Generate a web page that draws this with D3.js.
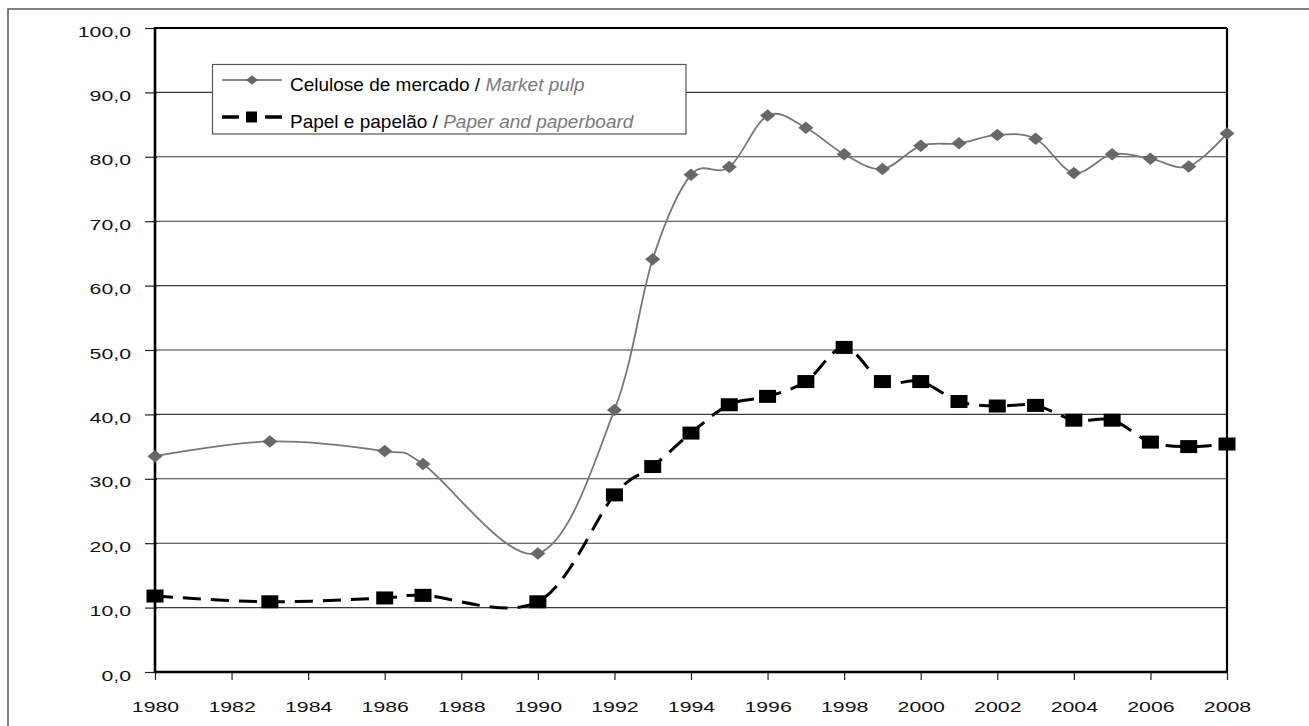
<!DOCTYPE html>
<html>
<head>
<meta charset="utf-8">
<script src="https://cdn.jsdelivr.net/npm/d3@7"></script>
<style>
  html, body { margin: 0; padding: 0; background: #fff; }
  svg { display: block; }
</style>
</head>
<body>
<svg id="chart" width="1309" height="726"></svg>
<script>
// ---- data ----
const years = [1980, 1983, 1986, 1987, 1990, 1992, 1993, 1994, 1995, 1996, 1997, 1998, 1999, 2000, 2001, 2002, 2003, 2004, 2005, 2006, 2007, 2008];
const marketPulp = [33.5, 35.8, 34.3, 32.3, 18.4, 40.7, 64.1, 77.2, 78.4, 86.4, 84.5, 80.4, 78.1, 81.7, 82.1, 83.4, 82.8, 77.5, 80.4, 79.7, 78.5, 83.6];
const paperBoard = [11.8, 10.9, 11.5, 11.9, 10.9, 27.5, 31.9, 37.1, 41.5, 42.8, 45.1, 50.4, 45.1, 45.1, 42.0, 41.3, 41.4, 39.1, 39.1, 35.7, 35.0, 35.4];
const xTicks = [1980, 1982, 1984, 1986, 1988, 1990, 1992, 1994, 1996, 1998, 2000, 2002, 2004, 2006, 2008];
const xTickLabels = ["1980", "1982", "1984", "1986", "1988", "1990", "1992", "1994", "1996", "1998", "2000", "2002", "2004", "2006", "2008"];
const yTicks = [0, 10, 20, 30, 40, 50, 60, 70, 80, 90, 100];
const yTickLabels = ["0,0", "10,0", "20,0", "30,0", "40,0", "50,0", "60,0", "70,0", "80,0", "90,0", "100,0"];
const seriesNames = [["Celulose de mercado / ", "Market pulp"], ["Papel e papelão / ", "Paper and paperboard"]];

// ---- layout ----
const L = 155, R = 1227, T = 28, B = 672;
const SX = 1.42; // horizontal stretch of tick text in the reference

const svg = d3.select("#chart");
const x = d3.scaleLinear().domain([1980, 2008]).range([L, R]);
const y = d3.scaleLinear().domain([0, 100]).range([B, T]);

// outer frame
svg.append("rect").attr("x", 8).attr("y", 9).attr("width", 1340).attr("height", 760)
  .attr("fill", "none").attr("stroke", "#555").attr("stroke-width", 1.5);

// gridlines
svg.append("g").selectAll("line").data(yTicks.filter(d => d > 0 && d < 100)).join("line")
  .attr("x1", L).attr("x2", R).attr("y1", d => y(d)).attr("y2", d => y(d))
  .attr("stroke", "#3a3a3a").attr("stroke-width", 1.1);

// y axis
const yAxis = svg.append("g").attr("transform", `translate(${L},0)`)
  .call(d3.axisLeft(y).tickValues(yTicks).tickSize(10).tickFormat((d, i) => yTickLabels[i]));
yAxis.select(".domain").remove();
yAxis.selectAll(".tick line").attr("x2", -10).attr("x1", 2).attr("stroke", "#222").attr("stroke-width", 1.2);
yAxis.selectAll(".tick text")
  .attr("x", 0).attr("dy", null).attr("y", 0)
  .attr("transform", `translate(-24,8) scale(${SX},1)`)
  .attr("text-anchor", "end")
  .style("font-family", "'Liberation Sans', Arial, sans-serif").style("font-size", "15px").attr("fill", "#111");

// x axis
const xAxis = svg.append("g").attr("transform", `translate(0,${B})`)
  .call(d3.axisBottom(x).tickValues(xTicks).tickSize(8).tickFormat((d, i) => xTickLabels[i]));
xAxis.select(".domain").remove();
xAxis.selectAll(".tick line").attr("stroke", "#222").attr("stroke-width", 1.2);
xAxis.selectAll(".tick text")
  .attr("y", 0).attr("dy", null)
  .attr("transform", `translate(0,40) scale(${SX},1)`)
  .attr("text-anchor", "middle")
  .style("font-family", "'Liberation Sans', Arial, sans-serif").style("font-size", "15px").attr("fill", "#111");

// plot border
svg.append("line").attr("x1", L).attr("x2", R).attr("y1", T).attr("y2", T).attr("stroke", "#000").attr("stroke-width", 2);
svg.append("line").attr("x1", R).attr("x2", R).attr("y1", T).attr("y2", B).attr("stroke", "#000").attr("stroke-width", 2.2);
svg.append("line").attr("x1", L).attr("x2", L).attr("y1", T - 1).attr("y2", B + 1).attr("stroke", "#000").attr("stroke-width", 2.6);
svg.append("line").attr("x1", L).attr("x2", R + 1).attr("y1", B).attr("y2", B).attr("stroke", "#000").attr("stroke-width", 2.6);

// series
const curve = d3.curveCardinal.tension(0);
const pulpPts = years.map((yr, i) => [yr, marketPulp[i]]);
const paperPts = years.map((yr, i) => [yr, paperBoard[i]]);
const line = d3.line().x(d => x(d[0])).y(d => y(d[1])).curve(curve);

svg.append("path").datum(pulpPts).attr("d", line)
  .attr("fill", "none").attr("stroke", "#777").attr("stroke-width", 1.8);
svg.append("path").datum(paperPts).attr("d", line)
  .attr("fill", "none").attr("stroke", "#000").attr("stroke-width", 3).attr("stroke-dasharray", "18,10");

const diamond = (cx, cy, w, h) => `M${cx},${cy - h / 2}L${cx + w / 2},${cy}L${cx},${cy + h / 2}L${cx - w / 2},${cy}Z`;
svg.append("g").selectAll("path").data(pulpPts).join("path")
  .attr("d", d => diamond(x(d[0]), y(d[1]), 15, 12.5)).attr("fill", "#686868");
svg.append("g").selectAll("rect").data(paperPts).join("rect")
  .attr("x", d => x(d[0]) - 8.5).attr("y", d => y(d[1]) - 6.5)
  .attr("width", 17).attr("height", 13).attr("fill", "#000");

// legend
const lg = svg.append("g");
lg.append("rect").attr("x", 212.5).attr("y", 64.5).attr("width", 473.5).attr("height", 69.5)
  .attr("fill", "#fff").attr("stroke", "#555").attr("stroke-width", 1.2);
lg.append("line").attr("x1", 222).attr("x2", 282).attr("y1", 80).attr("y2", 80).attr("stroke", "#888").attr("stroke-width", 1.8);
lg.append("path").attr("d", diamond(252, 80, 12, 9.5)).attr("fill", "#686868");
lg.append("line").attr("x1", 222).attr("x2", 282).attr("y1", 117).attr("y2", 117).attr("stroke", "#000").attr("stroke-width", 3.5).attr("stroke-dasharray", "17,26");
lg.append("rect").attr("x", 246).attr("y", 111.5).attr("width", 11).attr("height", 11).attr("fill", "#000");

[90.5, 127.5].forEach((by, i) => {
  const t = lg.append("text").attr("transform", `translate(290,${by})`)
    .style("font-family", "'Liberation Sans', Arial, sans-serif")
    .style("font-size", "19px");
  t.append("tspan").attr("fill", "#000").text(seriesNames[i][0]);
  t.append("tspan").attr("fill", "#7a7a7a").style("font-style", "italic").text(seriesNames[i][1]);
});
</script>
</body>
</html>
